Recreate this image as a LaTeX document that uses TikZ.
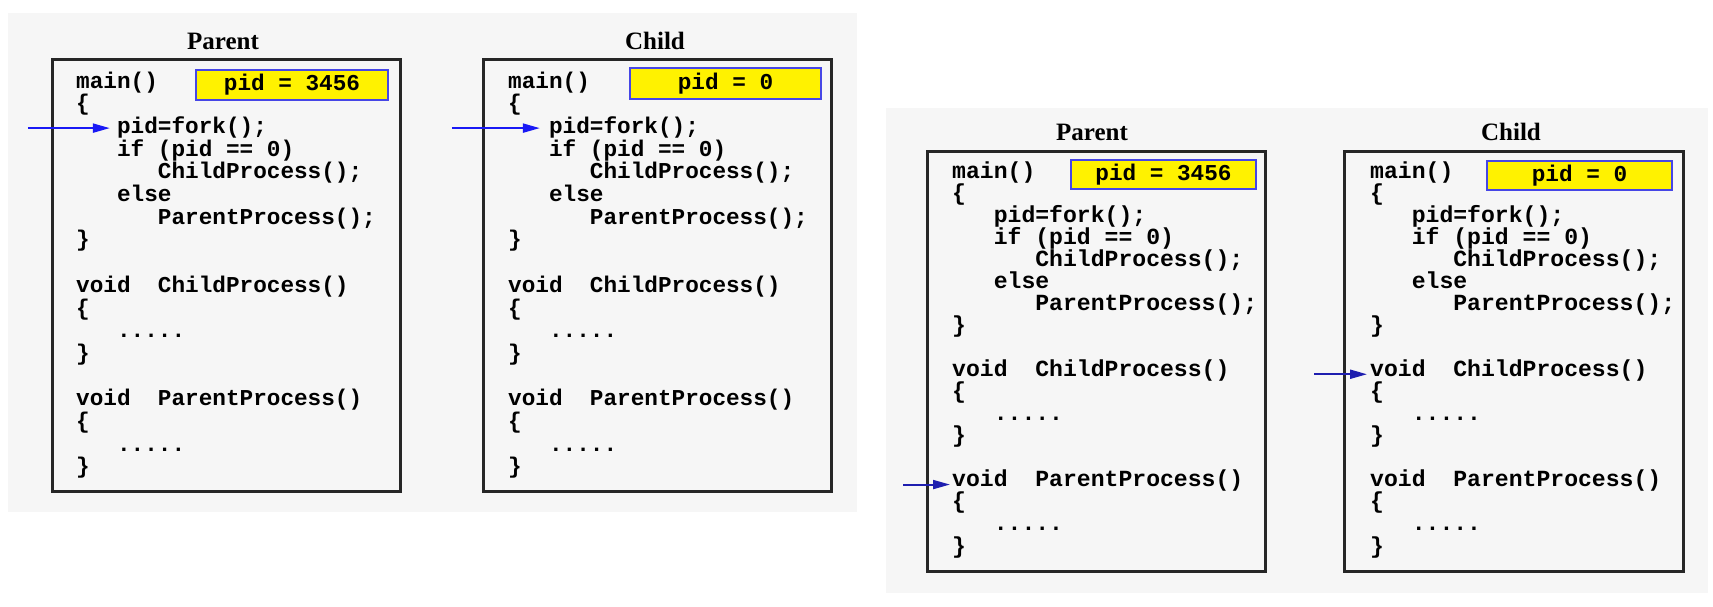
\documentclass[tikz,border=0pt]{standalone}
\usepackage{fontspec}
\setmainfont{Liberation Serif}
\setmonofont{Liberation Mono}
\usetikzlibrary{arrows.meta}
\definecolor{panelbg}{RGB}{246,246,246}
\definecolor{arrblue}{RGB}{25,25,245}
\definecolor{arrnavy}{RGB}{30,30,175}
\definecolor{pidborder}{RGB}{70,70,230}
\newcommand{\fivedots}{.{}.{}.{}.{}.}
% #1 name prefix, #2 x, #3 first baseline, #4 line step, #5 style, #6 char width
\newcommand{\codelines}[6]{%
  \foreach \ind/\txt [count=\i] in {0/main(), 0/\{, 3/pid=fork();, 3/if (pid == 0), 6/ChildProcess();, 3/else, 6/ParentProcess();, 0/\}, 0/{}, 0/void\ \ ChildProcess(), 0/\{, 3/\fivedots, 0/\}, 0/{}, 0/void\ \ ParentProcess(), 0/\{, 3/\fivedots, 0/\}}
    \node[#5] (#1-\i) at ({#2+\ind*#6},{#3+(\i-1)*#4}) {\txt};
}
\begin{document}
\begin{tikzpicture}[x=1pt,y=-1pt,
  panel/.style={fill=panelbg, draw=none},
  procbox/.style={draw=black!85, line width=3pt, fill=panelbg},
  pidbox/.style={draw=pidborder, line width=1.3pt, fill=yellow, inner sep=0pt,
     font=\fontsize{22.7}{22.7}\selectfont\ttfamily\bfseries},
  title/.style={font=\fontsize{25}{25}\selectfont\bfseries, anchor=base, inner sep=0pt},
  codeL/.style={font=\fontsize{22.7}{22.7}\selectfont\ttfamily\bfseries, anchor=base west, inner sep=0pt},
  codeR/.style={font=\fontsize{23.1}{23.1}\selectfont\ttfamily\bfseries, anchor=base west, inner sep=0pt},
  arrL/.style={draw=arrblue, line width=2pt, -{Triangle[length=17pt,width=9pt]}},
  arrR/.style={draw=arrnavy, line width=2pt, -{Triangle[length=17pt,width=9pt]}}
]
\useasboundingbox (0,0) rectangle (1713,606);
\fill[white] (0,0) rectangle (1713,606);
% panels
\path[panel] (8,13) rectangle (857,512);
\path[panel] (886,108) rectangle (1708,593);
% left pair
\node[title] (tLP) at (223,49) {Parent};
\node[title] (tLC) at (655,49) {Child};
\draw[procbox] (52,59) rectangle (400,491);
\draw[procbox] (483,59) rectangle (831,491);
\node[pidbox, minimum width=192pt, minimum height=30pt] (pLP) at (292,85) {pid = 3456};
\node[pidbox, minimum width=191pt, minimum height=31pt] (pLC) at (725.5,83.5) {pid = 0};
\codelines{LP}{76}{88}{22.7}{codeL}{13.62}
\codelines{LC}{508}{88}{22.7}{codeL}{13.62}
% right pair
\node[title] (tRP) at (1092,140) {Parent};
\node[title] (tRC) at (1511,140) {Child};
\draw[procbox] (927,151) rectangle (1265,571);
\draw[procbox] (1344,151) rectangle (1683,571);
\node[pidbox, minimum width=185pt, minimum height=29pt] (pRP) at (1163.5,174.5) {pid = 3456};
\node[pidbox, minimum width=185pt, minimum height=29pt] (pRC) at (1579.5,175.5) {pid = 0};
\codelines{RP}{952}{178}{22.06}{codeR}{13.86}
\codelines{RC}{1370}{178}{22.06}{codeR}{13.86}
% arrows
\coordinate (sLP) at ([xshift=-89pt,yshift=3pt]LP-3.mid west);
\draw[arrL, shorten >=7pt] (sLP) -- ([yshift=3pt]LP-3.mid west);
\coordinate (sLC) at ([xshift=-97pt,yshift=3pt]LC-3.mid west);
\draw[arrL, shorten >=9pt] (sLC) -- ([yshift=3pt]LC-3.mid west);
\coordinate (sRP) at ([xshift=-49pt]RP-15.mid west);
\draw[arrR, shorten >=2pt] (sRP) -- (RP-15.mid west);
\coordinate (sRC) at ([xshift=-56pt]RC-10.mid west);
\draw[arrR, shorten >=3pt] (sRC) -- (RC-10.mid west);
\end{tikzpicture}
\end{document}
